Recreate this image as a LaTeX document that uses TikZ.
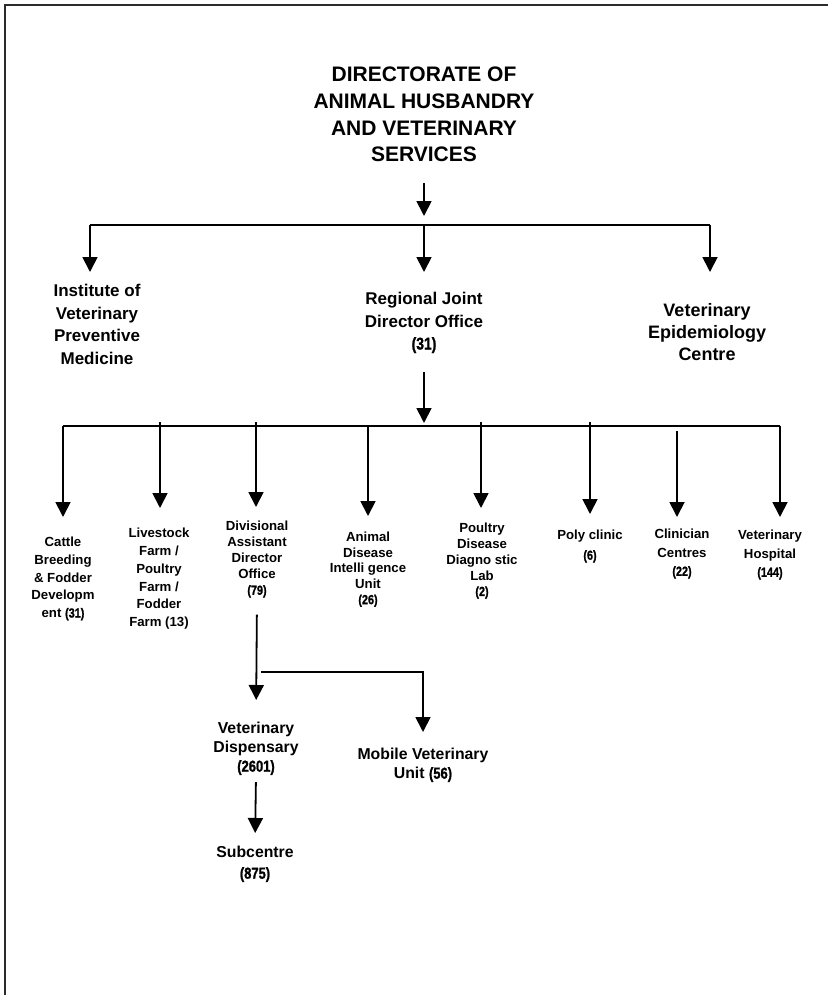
\documentclass[tikz,border=0pt]{standalone}
\usepackage{fontspec}
\setmainfont{Liberation Sans}
\usetikzlibrary{arrows.meta,positioning,calc}
\definecolor{ink}{HTML}{000000}
\definecolor{edge}{HTML}{2B2B2B}
\newcommand{\PageW}{828}
\newcommand{\PageH}{995}
\newcommand{\Tally}[1]{{\addfontfeature{FakeStretch=0.82,FakeBold=1.2}(#1)}}

\tikzset{
  link/.style={ink, line width=1.8pt},
  drop/.style={link, -{Triangle[length=15pt, width=15pt]}},
  chief/.style={align=center, inner sep=0pt, font=\bfseries\fontsize{21}{26.7}\selectfont},
  wing/.style={align=center, inner sep=0pt, font=\bfseries\fontsize{17}{22.5}\selectfont},
  unit/.style={align=center, inner sep=0pt},
  field/.style={align=center, inner sep=0pt, font=\bfseries\fontsize{15.8}{19}\selectfont},
}

\begin{document}
\begin{tikzpicture}[x=1pt, y=-1pt, ink]
\useasboundingbox (0,0) rectangle (\PageW,\PageH);

% --- Frame: only its top and left edges show ---------------------------------------
\draw[edge, line width=1.6pt] (5,\PageH) -- (5,5) -- (\PageW,5);

% --- Directorate and its three branches ----------------------------------------------
\node[chief, anchor=north] (dir) at (424,67) {DIRECTORATE OF\\ANIMAL HUSBANDRY\\AND VETERINARY\\SERVICES};
\node[wing, anchor=north] (inst) at (97,284) {Institute of\\Veterinary\\Preventive\\Medicine};
\node[wing, anchor=north] (reg) at (424,292) {Regional Joint\\Director Office\\\Tally{31}};
\node[wing, anchor=north, font=\bfseries\fontsize{18}{22}\selectfont] (epi) at (707,303) {Veterinary\\Epidemiology\\Centre};

\coordinate (topbar) at (424,225);
\coordinate (topL) at (90,225);
\coordinate (topR) at (710,225);
\draw[link] (topL) -- (topR);
\draw[drop, shorten <=21pt, shorten >=9pt] (dir.south) -- (topbar);
\draw[drop, shorten >=12pt] (topL) -- (topL |- inst.north);
\draw[drop, shorten >=20pt] (topbar) -- (reg.north);
\draw[drop, shorten >=31pt] (topR) -- (topR |- epi.north);

% --- Regional office down to its eight units -------------------------------------------
\coordinate (midbar) at (424,426);
\coordinate (midL) at (63,426);
\coordinate (midR) at (780,426);
\draw[link] (midL) -- (midR);
\draw[drop, shorten <=19pt, shorten >=3pt] (reg.south) -- (midbar);

\foreach \name/\x/\from/\gap/\tx/\y/\bs/\txt in {
  cattle/63/426/20/63/537/17.7/{Cattle\\Breeding\\\& Fodder\\Developm\\ent \Tally{31}},
  stock/160/422/20/159/528/17.8/{Livestock\\Farm /\\Poultry\\Farm /\\Fodder\\Farm (13)},
  div/256/422/14/257/521/16/{Divisional\\Assistant\\Director\\Office\\\Tally{79}},
  aid/368/426/16/368/532/15.6/{Animal\\Disease\\Intelli gence\\Unit\\\Tally{26}},
  pdd/481/422/15/482/523/15.8/{Poultry\\Disease\\Diagno stic\\Lab\\\Tally{2}},
  poly/590/422/16/590/530/20/{Poly clinic\\\Tally{6}},
  clin/677/431/12/682/529/18.5/{Clinician\\Centres\\\Tally{22}},
  hosp/780/426/13/770/530/18.5/{Veterinary\\Hospital\\\Tally{144}}} {
  \node[unit, anchor=north, font=\bfseries\fontsize{13.2}{\bs}\selectfont] (\name) at (\tx,\y) {\txt};
  \coordinate (\name-in) at (\x,\from);
  \draw[drop, shorten >=\gap pt] (\name-in) -- (\name-in |- \name.north);
}

% --- Divisional office down to the field units -------------------------------------------
\node[field, anchor=north] (disp) at (256,722) {Veterinary\\Dispensary\\\Tally{2601}};
\node[field, anchor=north] (mob) at (423,748) {Mobile Veterinary\\Unit \Tally{56}};
\node[field, anchor=north, font=\bfseries\fontsize{15.8}{21}\selectfont] (sub) at (255,846) {Subcentre\\\Tally{875}};

\coordinate (fork) at (261,672);
\draw[drop, shorten <=17pt, shorten >=22pt] (div.south) -- (disp.north);
\draw[drop, shorten >=16pt] (fork) -| (mob.north);
\draw[drop, shorten <=7pt, shorten >=13pt] (disp.south) -- (sub.north);

\end{tikzpicture}
\end{document}
